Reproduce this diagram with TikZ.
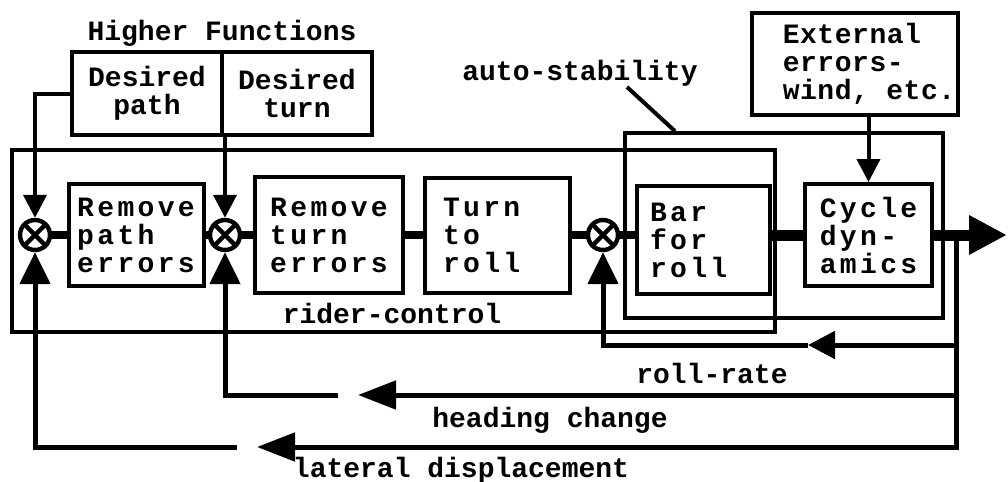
\documentclass[tikz,border=0pt]{standalone}
\usepackage{fontspec}
\newfontfamily\lblfont{Liberation Mono}
\newfontfamily\boxfont{Liberation Mono}[LetterSpace=12]
\newfontfamily\extfont{Liberation Mono}[LetterSpace=2]
\usetikzlibrary{arrows.meta}
\begin{document}
\begin{tikzpicture}[x=0.5pt,y=-0.5pt,
  lbl/.style={font=\lblfont\bfseries\fontsize{14}{14}\selectfont, inner sep=0pt},
  blk/.style={draw, line width=2pt, align=left, font=\boxfont\bfseries\fontsize{14}{14}\selectfont, inner sep=0pt},
  dsr/.style={draw, line width=2pt, align=center, font=\lblfont\bfseries\fontsize{14}{14}\selectfont, inner sep=0pt},
  grp/.style={draw, line width=1.8pt, inner sep=0pt},
  sumj/.style={circle, draw, line width=2.2pt, minimum size=15pt, inner sep=0pt,
    path picture={\draw[line width=2.2pt] (path picture bounding box.north west) -- (path picture bounding box.south east)
      (path picture bounding box.north east) -- (path picture bounding box.south west);}},
  mainline/.style={line width=4pt},
  fatline/.style={line width=5.5pt},
  fbline/.style={line width=2.5pt},
  inline/.style={line width=2pt},
  uptip/.style={-{Triangle[length=16pt,width=15pt]}},
  midtip/.style={-{Triangle[length=19pt,width=14pt]}},
  rrtip/.style={-{Triangle[length=13.5pt,width=13.5pt]}},
  downtip/.style={-{Triangle[length=11.5pt,width=11.5pt]}},
  outtip/.style={-{Triangle[length=19pt,width=18.5pt]}}
]
\useasboundingbox (0,0) rectangle (1008,482);

% group boxes
\node[grp, minimum width=381.5pt, minimum height=91pt] (rider) at (393.5,241) {};
\node[grp, minimum width=159pt, minimum height=92.5pt] (auto) at (784,225.5) {};

% higher functions
\node[lbl] (hf) at (222,33) {Higher Functions};
\node[dsr, minimum width=75pt, minimum height=41.5pt] (dpath) at (147,93.5) {Desired\\path};
\node[dsr, minimum width=75pt, minimum height=41.5pt] (dturn) at (297,93.5) {Desired\\turn};

% external
\node[draw, line width=2pt, align=left, inner sep=0pt, font=\extfont\bfseries\fontsize{14}{14}\selectfont,
      minimum width=103pt, minimum height=51pt] (ext) at (855,64)
      {\hspace*{14pt}External\\\hspace*{14pt}errors-\\\hspace*{14pt}wind, etc.};

% sums
\node[sumj] (s1) at (35,235) {};
\node[sumj] (s2) at (225,235) {};
\node[sumj] (s3) at (603,235) {};

% blocks
\node[blk, minimum width=67.5pt, minimum height=51pt] (pbox) at (136,235) {Remove\\path\\errors};
\node[blk, minimum width=74pt, minimum height=58pt] (tbox) at (329,235) {Remove\\turn\\errors};
\node[blk, text width=54.5pt, minimum width=72.5pt, minimum height=57.5pt] (rbox) at (497.5,235) {Turn\\to\\roll};
\node[blk, text width=53.5pt, minimum width=66.5pt, minimum height=54pt] (bbox) at (703.5,240) {Bar\\for\\roll};
\node[blk, minimum width=63.5pt, minimum height=51pt] (cbox) at (868.5,235) {Cycle\\dyn-\\amics};

% labels
\node[lbl] (autolbl) at (580,73) {auto-stability};
\node[lbl] (riderlbl) at (392,313) {rider-control};
\node[lbl] (rrlbl) at (712,373) {roll-rate};
\node[lbl] (hdlbl) at (550,420) {heading change};
\node[lbl] (latlbl) at (461,470) {lateral displacement};

% coordinates
\coordinate (out) at (1007,235);
\coordinate (fbj) at (956,235);
\coordinate (rrR) at (956,345);
\coordinate (rrT) at (808,345);
\coordinate (hdR) at (956,395);
\coordinate (hdT) at (358,395);
\coordinate (hdL) at (338,395);
\coordinate (latT) at (257,447);
\coordinate (latL) at (237,447);
\coordinate (ldrA) at (627,87);

% leader
\draw[line width=2pt] (ldrA) -- (auto.north -| 675,0);

% forward path
\draw[mainline] (s1) -- (pbox);
\draw[mainline] (pbox) -- (s2);
\draw[mainline] (s2) -- (tbox);
\draw[mainline] (tbox) -- (rbox);
\draw[mainline] (rbox) -- (s3);
\draw[mainline] (s3) -- (bbox.west |- s3);
\draw[fatline] (bbox.east |- s3) -- (cbox);
\draw[fatline, outtip] (cbox) -- (out);

% inputs
\draw[inline, downtip] (dpath.west) -| (s1.north);
\draw[inline, downtip] (dturn.south -| s2) -- (s2.north);
\draw[inline, downtip] (ext.south -| cbox) -- (cbox.north);

% feedback
\draw[fbline, midtip] (fbj) |- (latT);
\draw[fbline, uptip] (latL) -| (s1.south);
\draw[fbline, midtip] (hdR) -- (hdT);
\draw[fbline, uptip] (hdL) -| (s2.south);
\draw[fbline, rrtip] (rrR) -- (rrT);
\draw[fbline, uptip] (rrT) -| (s3.south);
\end{tikzpicture}
\end{document}
